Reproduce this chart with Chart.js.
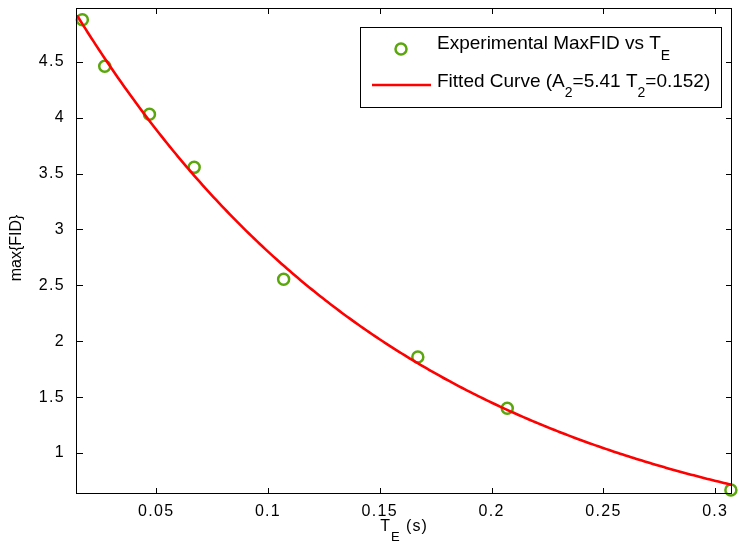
<!DOCTYPE html>
<html>
<head>
<meta charset="utf-8">
<style>
  html, body { margin: 0; padding: 0; background: #fff; }
  #wrap { width: 740px; height: 554px; }
</style>
<script src="https://cdn.jsdelivr.net/npm/chart.js@4.4.0/dist/chart.umd.min.js"></script>
</head>
<body>
<div id="wrap"><canvas id="c" width="740" height="554"></canvas></div>
<script>
// Measured echo times (s) and peak FID amplitude
const echoTimes = [0.017, 0.027, 0.047, 0.067, 0.107, 0.167, 0.207, 0.307];
const maxFid = [4.875, 4.46, 4.03, 3.555, 2.555, 1.86, 1.40, 0.67];

// Mono-exponential fit parameters: A2 * exp(-TE / T2)
const fitA2 = 5.41;
const fitT2 = 0.152;

// Axis limits and tick labels
const xLimits = [0.0146, 0.3075];
const yLimits = [0.634, 4.98];
const xTickValues = [0.05, 0.1, 0.15, 0.2, 0.25, 0.3];
const yTickValues = [1, 1.5, 2, 2.5, 3, 3.5, 4, 4.5];

const FONT = "'Liberation Sans', Arial, Helvetica, sans-serif";
const GREEN = '#5aa60c';
const RED = '#ff0000';
const TICK_SPACING = '1.3px';

// Fitted curve evaluated across the x range
const curveSamples = 240;
const fitCurve = [];
for (let i = 0; i <= curveSamples; i++) {
  const t = xLimits[0] + (xLimits[1] - xLimits[0]) * i / curveSamples;
  fitCurve.push({ x: t, y: fitA2 * Math.exp(-t / fitT2) });
}
const measured = echoTimes.map((t, i) => ({ x: t, y: maxFid[i] }));

// Draws a run of text pieces, some of them as subscripts
function drawRich(ctx, x, y, parts, size, subSize, subDrop) {
  let cx = x;
  for (const [txt, sub] of parts) {
    ctx.font = (sub ? subSize : size) + 'px ' + FONT;
    ctx.fillText(txt, cx, sub ? y + subDrop : y);
    cx += ctx.measureText(txt).width;
  }
  return cx - x;
}
function richWidth(ctx, parts, size, subSize) {
  let w = 0;
  for (const [txt, sub] of parts) {
    ctx.font = (sub ? subSize : size) + 'px ' + FONT;
    w += ctx.measureText(txt).width;
  }
  return w;
}

// Keep the plot box fixed: no extra room for overhanging end labels
function noOverhang(s) {
  s.paddingLeft = 0; s.paddingRight = 0; s.paddingTop = 0; s.paddingBottom = 0;
}

const boxPlugin = {
  id: 'matlabBox',
  beforeDraw(chart) {
    // slightly open tracking for the tick labels
    chart.ctx.letterSpacing = TICK_SPACING;
  },
  afterDraw(chart) {
    const ctx = chart.ctx;
    const a = chart.chartArea;
    const xs = chart.scales.x, ys = chart.scales.y;
    ctx.save();
    ctx.strokeStyle = '#000';
    ctx.lineWidth = 1;
    // full axes box
    ctx.strokeRect(Math.round(a.left) - 0.5, Math.round(a.top) + 0.5,
                   Math.round(a.right - a.left), Math.round(a.bottom - a.top) - 1);
    // inward ticks on all four sides
    const tl = 6;
    ctx.beginPath();
    for (const v of xTickValues) {
      const px = Math.round(xs.getPixelForValue(v)) + 0.5;
      ctx.moveTo(px, a.bottom); ctx.lineTo(px, a.bottom - tl);
      ctx.moveTo(px, a.top); ctx.lineTo(px, a.top + tl);
    }
    for (const v of yTickValues) {
      const py = Math.round(ys.getPixelForValue(v)) + 0.5;
      ctx.moveTo(a.left, py); ctx.lineTo(a.left + tl, py);
      ctx.moveTo(a.right, py); ctx.lineTo(a.right - tl, py);
    }
    ctx.stroke();

    ctx.fillStyle = '#000';
    ctx.textAlign = 'left';
    ctx.textBaseline = 'alphabetic';

    // x-axis title with subscript
    ctx.letterSpacing = '1px';
    const xt = [['T', false], ['E', true], [' (s)', false]];
    const xw = richWidth(ctx, xt, 16, 13);
    drawRich(ctx, 404 - xw / 2, 531, xt, 16, 13, 10);

    // y-axis title, rotated
    ctx.letterSpacing = '0px';
    ctx.save();
    ctx.translate(21, 248);
    ctx.rotate(-Math.PI / 2);
    ctx.font = '16px ' + FONT;
    ctx.textAlign = 'center';
    ctx.fillText('max{FID}', 0, 0);
    ctx.restore();

    // legend
    const lx = 360, ly = 27, lw = 361, lh = 80;
    ctx.fillStyle = '#fff';
    ctx.fillRect(lx, ly, lw, lh);
    ctx.strokeStyle = '#000';
    ctx.lineWidth = 1;
    ctx.strokeRect(lx + 0.5, ly + 0.5, lw, lh);

    ctx.strokeStyle = GREEN;
    ctx.lineWidth = 2.5;
    ctx.beginPath();
    ctx.arc(401, 49, 5.5, 0, Math.PI * 2);
    ctx.stroke();

    ctx.strokeStyle = RED;
    ctx.lineWidth = 2.5;
    ctx.beginPath();
    ctx.moveTo(372, 85); ctx.lineTo(431, 85);
    ctx.stroke();

    ctx.fillStyle = '#000';
    ctx.textAlign = 'left';
    drawRich(ctx, 437, 49, [['Experimental MaxFID vs T', false], ['E', true]], 19, 14, 11);
    drawRich(ctx, 437, 87, [['Fitted Curve (A', false], ['2', true], ['=' + fitA2.toFixed(2) + ' T', false], ['2', true], ['=' + fitT2.toFixed(3) + ')', false]], 19, 14, 10);
    ctx.restore();
    ctx.letterSpacing = '0px';
  }
};

new Chart(document.getElementById('c'), {
  type: 'scatter',
  data: {
    datasets: [
      {
        label: 'Fitted Curve',
        data: fitCurve,
        showLine: true,
        borderColor: RED,
        borderWidth: 2.6,
        pointRadius: 0,
        fill: false,
        tension: 0,
        order: 0
      },
      {
        label: 'Experimental MaxFID vs TE',
        data: measured,
        showLine: false,
        pointStyle: 'circle',
        pointRadius: 5.5,
        pointBorderWidth: 2.5,
        borderColor: GREEN,
        backgroundColor: 'rgba(0,0,0,0)',
        clip: false,
        order: 1
      }
    ]
  },
  options: {
    responsive: false,
    animation: false,
    devicePixelRatio: 1,
    layout: { padding: { top: 7, right: 1, left: 0, bottom: 0 } },
    plugins: { legend: { display: false }, tooltip: { enabled: false } },
    scales: {
      x: {
        type: 'linear',
        min: xLimits[0],
        max: xLimits[1],
        afterBuildTicks: s => { s.ticks = xTickValues.map(v => ({ value: v })); },
        afterFit: s => { s.height = 60; noOverhang(s); },
        grid: { display: false },
        border: { display: false },
        ticks: {
          color: '#000',
          font: { family: FONT, size: 16 },
          padding: 0,
          maxRotation: 0,
          autoSkip: false,
          callback: v => String(v)
        }
      },
      y: {
        type: 'linear',
        min: yLimits[0],
        max: yLimits[1],
        afterBuildTicks: s => { s.ticks = yTickValues.map(v => ({ value: v })); },
        afterFit: s => { s.width = 77; noOverhang(s); },
        grid: { display: false },
        border: { display: false },
        ticks: {
          color: '#000',
          font: { family: FONT, size: 16 },
          padding: 4,
          autoSkip: false,
          callback: v => String(v)
        }
      }
    }
  },
  plugins: [boxPlugin]
});
</script>
</body>
</html>
